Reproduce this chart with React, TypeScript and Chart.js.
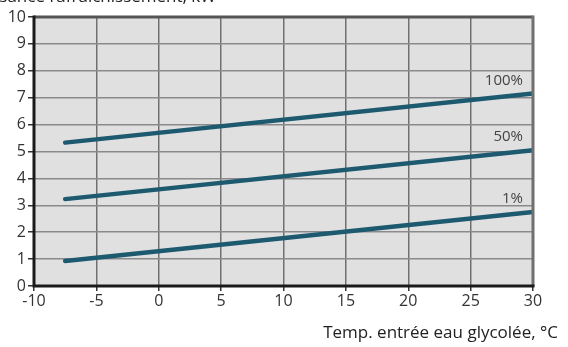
import React, { useEffect, useRef } from "react";
import { Chart, registerables } from "chart.js";

Chart.register(...registerables);

const xValues = [-7.5, 30];
const series100 = [5.33, 7.16];
const series50 = [3.23, 5.05];
const series1 = [0.93, 2.75];
const seriesLabels = ["100%", "50%", "1%"];
const xTicks = [-10, -5, 0, 5, 10, 15, 20, 25, 30];
const yTicks = [0, 1, 2, 3, 4, 5, 6, 7, 8, 9, 10];
const yTitle = "Puissance rafraîchissement, kW";
const xTitle = "Temp. entrée eau glycolée, °C";

const FONT = "'Open Sans', 'Noto Sans', sans-serif";
const LINE_COLOR = "#1d5a70";

export default function App() {
  const ref = useRef<HTMLCanvasElement | null>(null);

  useEffect(() => {
    document.body.style.margin = "0";
    const canvas = ref.current;
    if (!canvas) return;

    const toPts = (ys: number[]) => xValues.map((x, i) => ({ x, y: ys[i] }));

    const decor = {
      id: "decor",
      beforeDraw(chart: any) {
        const { ctx, chartArea: a } = chart;
        ctx.save();
        ctx.fillStyle = "#ffffff";
        ctx.fillRect(0, 0, chart.width, chart.height);
        ctx.fillStyle = "#e0e0e0";
        ctx.fillRect(a.left, a.top, a.right - a.left, a.bottom - a.top);
        ctx.restore();
      },
      afterDatasetsDraw(chart: any) {
        const { ctx, chartArea: a } = chart;
        ctx.save();
        ctx.lineWidth = 3;
        ctx.strokeStyle = "#555555";
        ctx.beginPath();
        ctx.moveTo(a.left, a.top);
        ctx.lineTo(a.right, a.top);
        ctx.stroke();
        ctx.strokeStyle = "#707070";
        ctx.beginPath();
        ctx.moveTo(a.right, a.top - 1.5);
        ctx.lineTo(a.right, a.bottom);
        ctx.stroke();
        ctx.strokeStyle = "#1a1a1a";
        ctx.beginPath();
        ctx.moveTo(a.left, a.top - 1.5);
        ctx.lineTo(a.left, a.bottom);
        ctx.lineTo(a.right + 1.5, a.bottom);
        ctx.stroke();

        ctx.fillStyle = "#444444";
        ctx.font = `15px ${FONT}`;
        ctx.textAlign = "right";
        ctx.textBaseline = "middle";
        const xs = chart.scales.x;
        const ys = chart.scales.y;
        const ends = [series100, series50, series1];
        ends.forEach((s, i) => {
          const px = xs.getPixelForValue(xValues[xValues.length - 1]) - 10;
          const py = ys.getPixelForValue(s[s.length - 1]) - 13;
          ctx.fillText(seriesLabels[i], px, py);
        });

        ctx.fillStyle = "#222222";
        ctx.font = `17px ${FONT}`;
        ctx.textAlign = "right";
        ctx.textBaseline = "alphabetic";
        ctx.fillText(yTitle, 216, 2);
        ctx.textBaseline = "middle";
        ctx.fillText(xTitle, 558, 333);
        ctx.restore();
      },
    };

    const ds = (label: string, ys: number[]) => ({
      label,
      data: toPts(ys),
      borderColor: LINE_COLOR,
      borderWidth: 4.5,
      borderCapStyle: "round" as const,
      pointRadius: 0,
      fill: false,
    });

    const chart = new Chart(canvas, {
      type: "line",
      data: {
        datasets: [
          ds(seriesLabels[0], series100),
          ds(seriesLabels[1], series50),
          ds(seriesLabels[2], series1),
        ],
      },
      options: {
        animation: false,
        responsive: false,
        maintainAspectRatio: false,
        layout: { padding: { top: 17, right: 35, bottom: 0, left: 0 } },
        plugins: { legend: { display: false }, tooltip: { enabled: false } },
        scales: {
          x: {
            type: "linear",
            min: -10,
            max: 30,
            afterBuildTicks: (s: any) => {
              s.ticks = xTicks.map((v) => ({ value: v }));
            },
            afterFit: (s: any) => {
              s.height = 61;
            },
            grid: {
              color: "#707070",
              lineWidth: 1.5,
              drawTicks: true,
              tickLength: 5,
              tickColor: "#333333",
            },
            border: { display: false },
            ticks: {
              color: "#333333",
              font: { family: FONT, size: 16 },
              padding: 1,
              maxRotation: 0,
              autoSkip: false,
            },
          },
          y: {
            type: "linear",
            min: 0,
            max: 10,
            afterBuildTicks: (s: any) => {
              s.ticks = yTicks.map((v) => ({ value: v }));
            },
            afterFit: (s: any) => {
              s.width = 34;
            },
            grid: {
              color: "#8a8a8a",
              lineWidth: 1.5,
              drawTicks: true,
              tickLength: 6,
              tickColor: "#333333",
            },
            border: { display: false },
            ticks: {
              color: "#333333",
              font: { family: FONT, size: 16 },
              padding: 2,
              autoSkip: false,
            },
          },
        },
      },
      plugins: [decor],
    });

    return () => chart.destroy();
  }, []);

  return <canvas ref={ref} width={568} height={347} style={{ display: "block" }} />;
}
